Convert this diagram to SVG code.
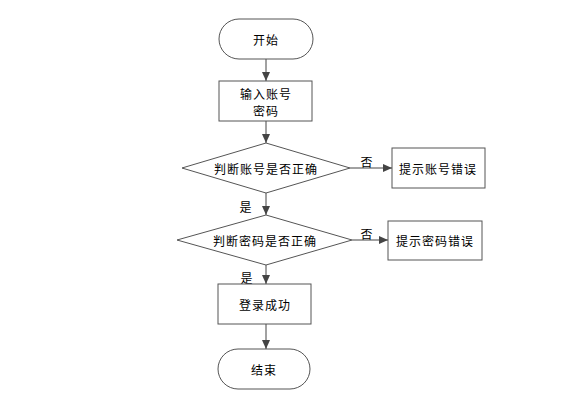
<svg xmlns="http://www.w3.org/2000/svg" width="587" height="403" viewBox="0 0 587 403">
<style>
.s{fill:#fff;stroke:#555;stroke-width:1}
.t{font-family:"Noto Sans CJK SC","Liberation Sans",sans-serif;font-size:12px;fill:#000;text-anchor:middle;dominant-baseline:central;letter-spacing:1px}
.c{stroke:#444;stroke-width:1;fill:none;marker-end:url(#a)}
</style>
<defs>
<marker id="a" markerWidth="10" markerHeight="10" refX="9" refY="5" orient="auto" markerUnits="userSpaceOnUse">
<path d="M0,1 L9,5 L0,9 Z" fill="#444"/>
</marker>
</defs>
<rect width="587" height="403" fill="#fff"/>
<g id="connectors">
<line class="c" x1="266" y1="59" x2="266" y2="81"/>
<line class="c" x1="266" y1="121" x2="266" y2="143"/>
<line class="c" x1="350" y1="168" x2="392" y2="168"/>
<line class="c" x1="266" y1="193" x2="266" y2="215"/>
<line class="c" x1="352" y1="240" x2="388" y2="240"/>
<line class="c" x1="266" y1="265" x2="266" y2="284"/>
<line class="c" x1="266" y1="324" x2="266" y2="349"/>
<text class="t" x="367" y="161">否</text>
<text class="t" x="246" y="206">是</text>
<text class="t" x="367" y="233">否</text>
<text class="t" x="247" y="277">是</text>
</g>
<g id="start"><rect class="s" x="219" y="19" width="94" height="40" rx="20"/><text class="t" x="266" y="39">开始</text></g>
<g id="input"><rect class="s" x="219" y="81" width="93" height="40"/><text class="t" x="266" y="93">输入账号</text><text class="t" x="266" y="110">密码</text></g>
<g id="check-account"><polygon class="s" points="266,143 350,168 266,193 182,168"/><text class="t" x="266" y="168">判断账号是否正确</text></g>
<g id="account-error"><rect class="s" x="392" y="148" width="93" height="40"/><text class="t" x="438" y="168">提示账号错误</text></g>
<g id="check-password"><polygon class="s" points="266,215 352,240 266,265 177,240"/><text class="t" x="265" y="240">判断密码是否正确</text></g>
<g id="password-error"><rect class="s" x="388" y="221" width="94" height="39"/><text class="t" x="435" y="240">提示密码错误</text></g>
<g id="success"><rect class="s" x="218" y="284" width="93" height="40"/><text class="t" x="265" y="304">登录成功</text></g>
<g id="end"><rect class="s" x="218" y="349" width="92" height="40" rx="20"/><text class="t" x="264" y="369">结束</text></g>
</svg>
